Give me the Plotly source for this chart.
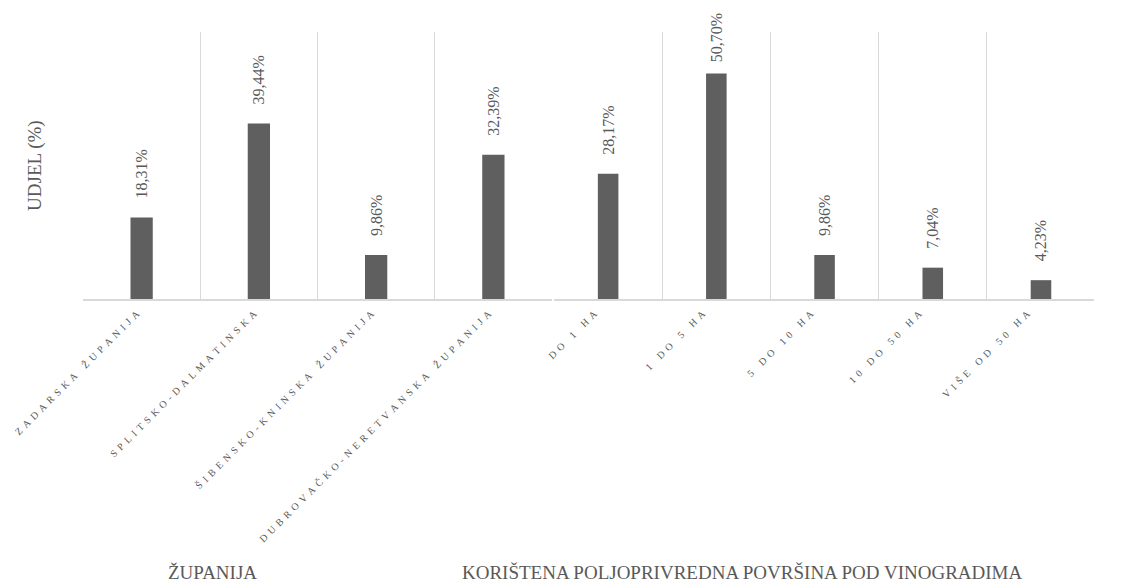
import plotly.graph_objects as go

zupanije = ["ZADARSKA ŽUPANIJA", "SPLITSKO-DALMATINSKA", "ŠIBENSKO-KNINSKA ŽUPANIJA",
            "DUBROVAČKO-NERETVANSKA ŽUPANIJA"]
zupanije_udjel = [18.31, 39.44, 9.86, 32.39]

povrsine = ["DO 1 HA", "1 DO 5 HA", "5 DO 10 HA", "10 DO 50 HA", "VIŠE OD 50 HA"]
povrsine_udjel = [28.17, 50.70, 9.86, 7.04, 4.23]

y_title = "UDJEL (%)"
group_titles = ["ŽUPANIJA", "KORIŠTENA POLJOPRIVREDNA POVRŠINA POD VINOGRADIMA"]

FONT = "Liberation Serif, Times New Roman, serif"
GREY = "#595959"
BAR = "#5f5f5f"
GRID = "#d9d9d9"

LSEP = "\u2004\u200a"
Y_MAX = 60


def spaced(s):
    words = s.split(" ")
    return (LSEP + "\u00a0" + LSEP).join(LSEP.join(w) for w in words)


def lbl(v):
    # leave a gap above the bar, smaller when the label runs near the top edge
    pad = 4 if v < 0.75 * Y_MAX else 2
    return "\u00a0" * pad + f"{v:.2f}".replace(".", ",") + "%"


fig = go.Figure()
for xs, ys, ax in [(zupanije, zupanije_udjel, "x"), (povrsine, povrsine_udjel, "x2")]:
    fig.add_trace(go.Bar(x=xs, y=ys, xaxis=ax, yaxis="y",
                         marker=dict(color=BAR, line=dict(width=0)), width=0.19,
                         text=[lbl(v) for v in ys], textposition="outside",
                         textangle=-90, cliponaxis=False, constraintext="none",
                         textfont=dict(family=FONT, size=16, color=GREY)))

xcommon = dict(type="category", tickson="boundaries", showgrid=True, gridcolor=GRID,
               gridwidth=1, ticks="", showline=True, linecolor=GRID, linewidth=2,
               tickangle=-45, tickfont=dict(family=FONT, size=10, color=GREY),
               zeroline=False, anchor="y", automargin=False, ticklabelstandoff=3)

# page body has an 8px margin, so the figure is offset by 8px
fig.update_layout(
    width=1121, height=575,
    margin=dict(l=75, r=35, t=24, b=284),
    paper_bgcolor="white", plot_bgcolor="white",
    showlegend=False,
    xaxis=dict(domain=[0, 0.4639], range=[-0.5, 3.5], ticklabelshift=-5,
               tickvals=zupanije, ticktext=[spaced(c) for c in zupanije], **xcommon),
    xaxis2=dict(domain=[0.4659, 1], range=[-0.5, 4.49], ticklabelshift=-14,
                tickvals=povrsine, ticktext=[spaced(c) for c in povrsine], **xcommon),
    yaxis=dict(range=[0, Y_MAX], showgrid=False, showticklabels=False, ticks="",
               zeroline=False, showline=False, automargin=False),
    font=dict(family=FONT, color=GREY),
)

fig.add_annotation(text=y_title, xref="paper", yref="paper", x=-0.0475, y=0.502,
                   textangle=-90, showarrow=False, xanchor="center", yanchor="middle",
                   font=dict(family=FONT, size=19, color=GREY))
fig.add_annotation(text=group_titles[0], xref="paper", yref="paper", x=0.1276, y=-1.026,
                   showarrow=False, xanchor="center", yanchor="middle",
                   font=dict(family=FONT, size=19, color=GREY))
fig.add_annotation(text=group_titles[1], xref="paper", yref="paper", x=0.652, y=-1.026,
                   showarrow=False, xanchor="center", yanchor="middle",
                   font=dict(family=FONT, size=19, color=GREY))

fig.write_html("out.html")
